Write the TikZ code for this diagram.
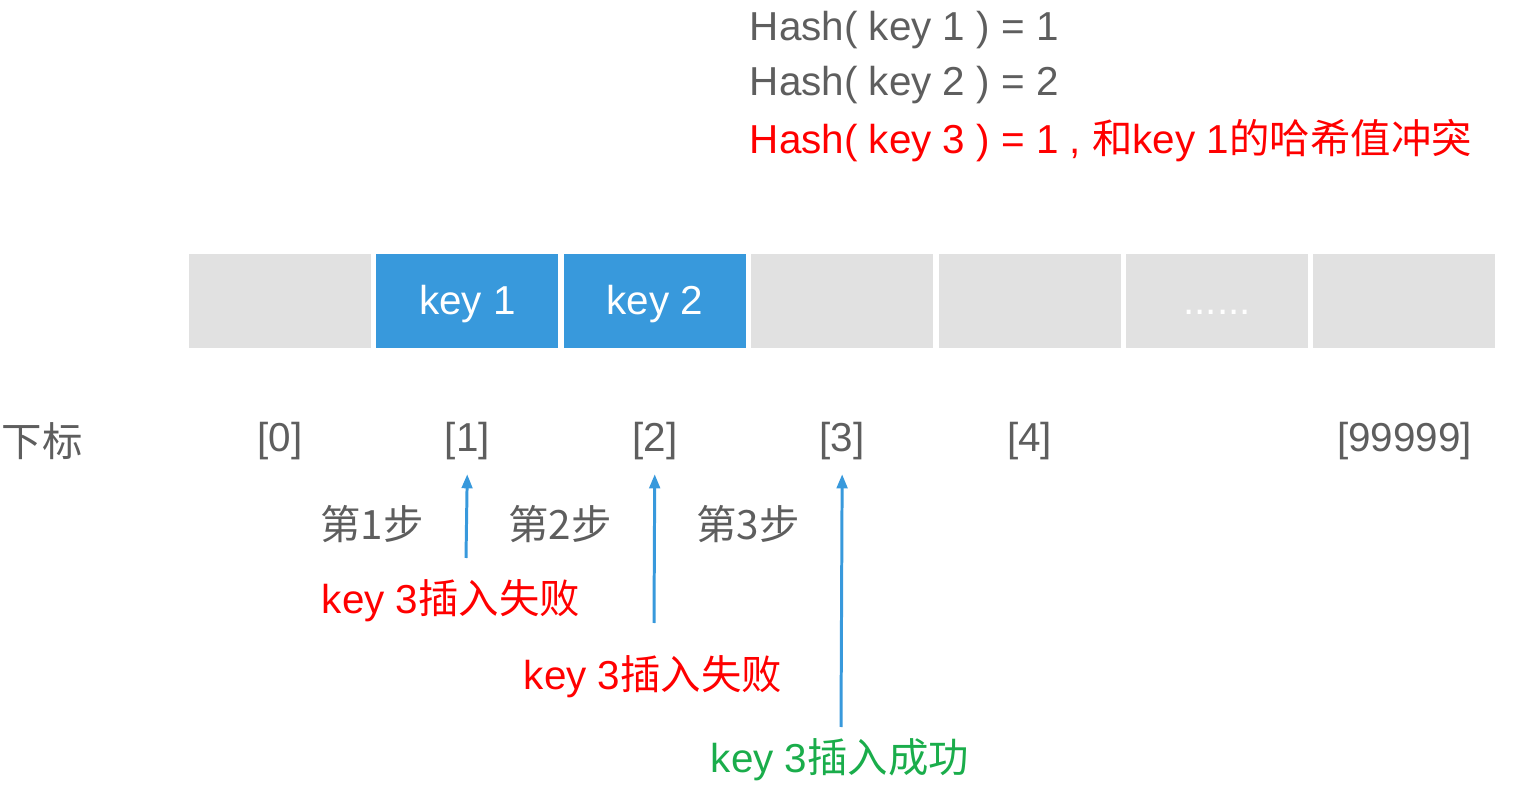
\documentclass[tikz,border=0pt]{standalone}
\usepackage{fontspec}
\setmainfont{Liberation Sans}
\newfontfamily\cjk{Noto Sans CJK SC}
\usetikzlibrary{arrows.meta}
\definecolor{cellgray}{HTML}{E1E1E1}
\definecolor{cellblue}{HTML}{3899DC}
\definecolor{txtgray}{HTML}{5E5E5E}
\definecolor{okgreen}{HTML}{1AAD4B}
\newcommand{\celldots}{......}

\begin{document}
\begin{tikzpicture}[x=0.02cm,y=-0.02cm,
  cell/.style={minimum width=3.64cm,minimum height=1.88cm,inner sep=0pt,text=white,
    text height=15pt,text depth=0pt,font=\fontsize{23}{27}\selectfont},
  lbl/.style={text=txtgray,inner sep=2pt,font=\fontsize{23}{27}\selectfont},
  bad/.style={lbl,text=red},
  good/.style={lbl,text=okgreen},
  arr/.style={draw=cellblue,line width=1.7pt,shorten >=6pt,-{Triangle[length=8pt,width=6pt]}}]
  \useasboundingbox (0,0) rectangle (1519,800);

  % hash values
  \node[lbl,anchor=west] (h1) at (746,30) {Hash( key 1 ) = 1};
  \node[lbl,anchor=west] (h2) at (746,85) {Hash( key 2 ) = 2};
  \node[bad,anchor=west] (h3) at (746,141) {Hash( key 3 ) = 1 , {\cjk 和}key 1{\cjk 的哈希值冲突}};

  % the table
  \foreach \i/\c/\t in {0/cellgray/{},1/cellblue/key 1,2/cellblue/key 2,3/cellgray/{},
      4/cellgray/{},5/cellgray/\celldots,6/cellgray/{}}
    \node[cell,fill=\c] (c\i) at ({280+187.4*\i},301) {\t};

  % indices
  \node[lbl] (sub) at (42,441) {\cjk 下标};
  \foreach \i/\t in {0/{[0]},1/{[1]},2/{[2]},3/{[3]},4/{[4]},6/{[99999]}}
    \node[lbl] (i\i) at (c\i |- 0,441) {\t};

  % probing steps
  \node[lbl] (s1) at (372,524) {\cjk 第1步};
  \node[lbl] (s2) at (560,524) {\cjk 第2步};
  \node[lbl] (s3) at (748,524) {\cjk 第3步};
  \node[bad] (r1) at (451,601) {key 3{\cjk 插入失败}};
  \node[bad] (r2) at (653,677) {key 3{\cjk 插入失败}};
  \node[good] (r3) at (840,760) {key 3{\cjk 插入成功}};

  \coordinate (t1) at (466,558);
  \coordinate (t2) at (654,623);
  \coordinate (t3) at (841,727);
  \draw[arr] (t1) -- (i1.south);
  \draw[arr] (t2) -- (i2.south);
  \draw[arr] (t3) -- (i3.south);
\end{tikzpicture}
\end{document}
